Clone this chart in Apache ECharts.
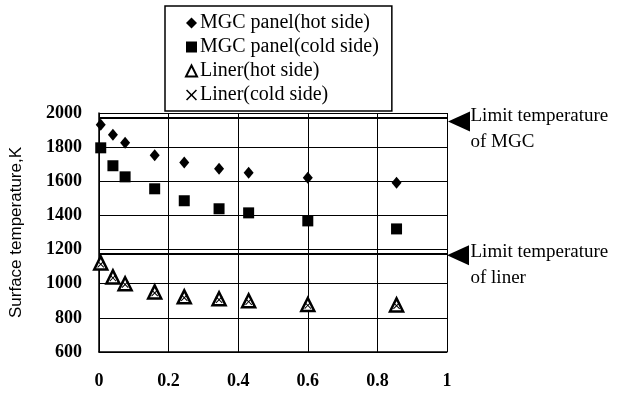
<!DOCTYPE html>
<html>
<head>
<meta charset="utf-8">
<script src="https://cdn.jsdelivr.net/npm/echarts@6/dist/echarts.min.js"></script>
<style>
  html, body { margin: 0; padding: 0; background: #fff; }
  #chart { width: 620px; height: 396px; }
</style>
</head>
<body>
<div id="chart"></div>
<script>
// position along the panel (x) and surface temperatures in K
var xPos = [0.005, 0.04, 0.075, 0.16, 0.245, 0.345, 0.43, 0.6, 0.855];
var mgcHot = [1931, 1873, 1826, 1752, 1710, 1673, 1650, 1620, 1591];
var mgcCold = [1796, 1691, 1626, 1556, 1486, 1439, 1415, 1368, 1321];
var linerHot = [1122, 1040, 1000, 952, 923, 912, 900, 878, 876];
var linerCold = [1114, 1034, 995, 946, 918, 906, 895, 873, 871];

var limitMGC = 1973;
var limitLiner = 1173;

var seriesNames = ['MGC panel(hot side)', 'MGC panel(cold side)', 'Liner(hot side)', 'Liner(cold side)'];

var crossPath = 'path://M0,1L1,0L5,4L9,0L10,1L6,5L10,9L9,10L5,6L1,10L0,9L4,5Z';
var serif = 'Liberation Serif';

function pairs(ys) {
  return xPos.map(function (x, i) { return [x, ys[i]]; });
}

var chart = echarts.init(document.getElementById('chart'), null, { renderer: 'canvas' });

var option = {
  backgroundColor: '#ffffff',
  animation: false,
  grid: { left: 96, right: 173, top: 113, bottom: 44 },
  legend: {
    orient: 'vertical',
    left: 165,
    top: 6,
    padding: [7, 13, 6, 20],
    itemGap: 4,
    itemWidth: 11,
    itemHeight: 11,
    borderColor: '#000',
    borderWidth: 1.5,
    backgroundColor: '#fff',
    data: seriesNames,
    textStyle: { fontFamily: serif, fontSize: 20, color: '#000', padding: [0, 0, 0, -2] }
  },
  xAxis: {
    type: 'value',
    min: 0,
    max: 1,
    interval: 0.2,
    axisLine: { lineStyle: { color: '#000', width: 1.5 } },
    axisTick: { show: false },
    splitLine: { lineStyle: { color: '#000', width: 1 } },
    axisLabel: { margin: 20, fontFamily: serif, fontSize: 18, fontWeight: 'bold', color: '#000' }
  },
  yAxis: {
    type: 'value',
    min: 600,
    max: 2000,
    interval: 200,
    name: 'Surface temperature,K',
    nameLocation: 'middle',
    nameGap: 74,
    nameTextStyle: { fontFamily: 'Liberation Sans', fontSize: 17, color: '#000' },
    axisLine: { show: true, lineStyle: { color: '#000', width: 1.5 } },
    axisTick: { show: false },
    splitLine: { lineStyle: { color: '#000', width: 1 } },
    axisLabel: {
      margin: 17,
      fontFamily: serif,
      fontSize: 18,
      fontWeight: 'bold',
      color: '#000',
      formatter: function (v) { return String(v); }
    }
  },
  series: [
    {
      name: seriesNames[0],
      type: 'scatter',
      symbol: 'diamond',
      symbolSize: [10, 12],
      itemStyle: { color: '#000', opacity: 1 },
      data: pairs(mgcHot),
      markLine: {
        silent: true,
        symbol: ['none', 'none'],
        label: { show: false },
        lineStyle: { color: '#000', width: 2, type: 'solid' },
        data: [{ yAxis: limitMGC }, { yAxis: limitLiner }]
      },
      markPoint: {
        silent: true,
        symbol: 'triangle',
        symbolRotate: 90,
        symbolSize: [20, 22],
        itemStyle: { color: '#000', opacity: 1 },
        label: { show: false },
        data: [
          { coord: [1, limitMGC], symbolOffset: [12, 4] },
          { coord: [1, limitLiner], symbolOffset: [11, 1] }
        ]
      }
    },
    {
      name: seriesNames[1],
      type: 'scatter',
      symbol: 'rect',
      symbolSize: 11,
      itemStyle: { color: '#000', opacity: 1 },
      data: pairs(mgcCold),
      markPoint: {
        silent: true,
        symbol: 'circle',
        symbolSize: 1,
        itemStyle: { color: 'rgba(0,0,0,0)' },
        label: {
          show: true,
          position: 'right',
          distance: 0,
          fontFamily: serif,
          fontSize: 19,
          lineHeight: 26,
          color: '#000'
        },
        data: [
          { coord: [1, limitMGC], label: { formatter: 'Limit temperature\nof MGC', offset: [23, 11] } },
          { coord: [1, limitLiner], label: { formatter: 'Limit temperature\nof liner', offset: [23, 11] } }
        ]
      }
    },
    {
      name: seriesNames[2],
      type: 'scatter',
      symbol: 'triangle',
      symbolSize: 13,
      itemStyle: { color: '#fff', borderColor: '#000', borderWidth: 2.5, opacity: 1 },
      data: pairs(linerHot),
      z: 3
    },
    {
      name: seriesNames[3],
      type: 'scatter',
      symbol: crossPath,
      symbolSize: 7,
      itemStyle: { color: '#000', opacity: 1 },
      data: pairs(linerCold),
      z: 4
    }
  ]
};

chart.setOption(option);
</script>
</body>
</html>
